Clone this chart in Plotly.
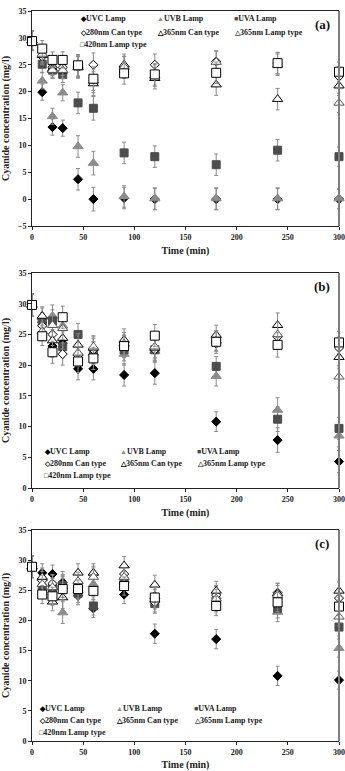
import plotly.graph_objects as go

# ---------------- data ----------------
time_min = [0, 10, 20, 30, 45, 60, 90, 120, 180, 240, 300]
series_names = ["UVC Lamp", "UVB Lamp", "UVA Lamp", "280nm Can type",
                "365nm Can type", "365nm Lamp type", "420nm Lamp type"]
panel_labels = ["(a)", "(b)", "(c)"]
x_ticks = [0, 50, 100, 150, 200, 250, 300]

# panel (a)
a_uvc = [29.5, 19.9, 13.4, 13.2, 3.7, 0.0, 0.2, 0.0, 0.0, 0.0, 0.0]
a_uvb = [29.5, 22.0, 15.4, 19.8, 9.8, 6.7, 0.5, 0.1, 0.1, 0.1, 0.1]
a_uva = [29.5, 25.1, 24.0, 23.2, 17.9, 16.9, 8.6, 7.9, 6.4, 9.1, 7.9]
a_280 = [29.5, 26.5, 24.5, 24.5, 24.6, 25.0, 24.5, 25.0, 25.6, 25.3, 22.8]
a_365c = [29.5, 26.8, 24.2, 23.9, 24.5, 21.5, 25.0, 22.5, 21.3, 18.6, 21.1]
a_365l = [29.5, 27.0, 24.0, 24.0, 24.8, 22.0, 24.6, 23.0, 25.5, 25.0, 17.9]
a_420 = [29.4, 28.0, 25.9, 25.9, 24.9, 22.4, 23.4, 23.2, 23.5, 25.3, 23.7]
a_err = [1.8, 1.5, 1.5, 1.5, 2.0, 2.2, 2.0, 2.0, 2.0, 2.0, 1.8]

# panel (b)
b_uvc = [29.8, 27.0, 23.1, 23.6, 19.4, 19.4, 18.4, 18.7, 10.8, 7.8, 4.3]
b_uvb = [29.8, 27.8, 28.0, 26.4, 22.0, 22.0, 21.8, 22.3, 18.2, 12.7, 8.5]
b_uva = [29.8, 27.0, 27.2, 23.0, 25.0, 22.0, 22.5, 22.5, 19.8, 11.2, 9.7]
b_280 = [29.8, 26.4, 25.0, 21.8, 21.6, 22.5, 23.0, 22.5, 23.5, 24.6, 22.8]
b_365c = [29.8, 28.0, 24.0, 24.4, 23.3, 22.8, 24.1, 22.8, 24.9, 26.5, 21.3]
b_365l = [29.8, 25.5, 26.5, 26.0, 22.0, 23.0, 23.5, 23.0, 24.0, 25.0, 18.1]
b_420 = [29.8, 24.7, 22.1, 27.8, 20.6, 21.1, 23.1, 24.8, 23.8, 23.3, 23.7]
b_err = [1.8, 1.5, 1.8, 1.8, 1.8, 1.8, 1.8, 1.8, 1.6, 2.0, 1.8]

# panel (c)
c_uvc = [28.9, 27.9, 27.7, 26.3, 24.1, 22.0, 24.3, 17.8, 16.9, 10.8, 10.1]
c_uvb = [28.9, 27.0, 26.0, 21.3, 25.0, 26.0, 26.7, 23.5, 24.0, 21.4, 15.4]
c_uva = [28.9, 25.4, 25.5, 25.8, 24.5, 22.4, 26.5, 22.8, 23.0, 22.0, 18.9]
c_280 = [28.9, 26.6, 26.1, 25.5, 26.3, 27.5, 27.7, 23.0, 24.2, 24.6, 23.7]
c_365c = [28.9, 27.2, 23.1, 23.8, 27.9, 27.9, 29.1, 25.9, 24.9, 24.5, 24.9]
c_365l = [28.9, 26.0, 25.5, 25.6, 26.5, 27.2, 27.2, 24.0, 23.6, 24.2, 20.6]
c_420 = [28.9, 24.3, 24.0, 25.2, 25.2, 24.9, 25.7, 23.8, 22.4, 23.0, 22.3]
c_err = [1.8, 1.5, 1.5, 1.8, 1.5, 1.5, 1.5, 1.6, 1.6, 1.6, 1.5]

panels = [
    [a_uvc, a_uvb, a_uva, a_280, a_365c, a_365l, a_420],
    [b_uvc, b_uvb, b_uva, b_280, b_365c, b_365l, b_420],
    [c_uvc, c_uvb, c_uva, c_280, c_365c, c_365l, c_420],
]
panel_err = [a_err, b_err, c_err]
y_ranges = [[-5, 35], [0, 35], [0, 35]]

# ---------------- styles ----------------
# symbol, fill, outline, size, legend glyph
styles = [
    ("diamond", "#000000", "#000000", 7, "\u25C6"),
    ("triangle-up", "#8c8c8c", "#8c8c8c", 9, "\u25B2"),
    ("square", "#4d4d4d", "#4d4d4d", 8, "\u25A0"),
    ("diamond", "#ffffff", "#000000", 7, "\u25C7"),
    ("triangle-up", "#ffffff", "#000000", 9, "\u25B3"),
    ("triangle-up", "#ffffff", "#555555", 9, "\u25B3"),
    ("square", "#ffffff", "#000000", 9, "\u25A1"),
]

FONT = "Liberation Serif"
W, H = 345, 771
ML, MR, MT, MB = 32, 6, 11, 30
plot_h = H - MT - MB
# panel pixel extents (top, bottom) in page px
panel_px = [(11, 226), (273, 488), (530, 741)]
domains = [[(H - MB - b) / plot_h, (H - MB - t) / plot_h] for (t, b) in panel_px]

# legend placement per panel (x-domain fractions for columns, y-domain for rows)
legend_cols = [[0.150, 0.401, 0.652], [0.033, 0.281, 0.531], [0.017, 0.268, 0.521]]
legend_rows = [[0.963, 0.902, 0.845], [0.172, 0.116, 0.056], [0.153, 0.098, 0.042]]

fig = go.Figure()
annotations = []
shapes = []
layout_axes = {}

for p, series in enumerate(panels):
    xa = "x" if p == 0 else f"x{p+1}"
    ya = "y" if p == 0 else f"y{p+1}"
    for s, vals in enumerate(series):
        sym, fill, line, size, _ = styles[s]
        fig.add_trace(go.Scatter(
            x=time_min, y=vals, mode="markers", name=series_names[s],
            showlegend=False, xaxis=xa, yaxis=ya, cliponaxis=False,
            marker=dict(symbol=sym, color=fill, size=size,
                        line=dict(color=line, width=1)),
            error_y=dict(type="data", array=panel_err[p], color="#8a8a8a",
                         thickness=1, width=2),
        ))
    xkey = "xaxis" if p == 0 else f"xaxis{p+1}"
    ykey = "yaxis" if p == 0 else f"yaxis{p+1}"
    layout_axes[xkey] = dict(
        domain=[0, 1], range=[0, 300], anchor=ya, tickvals=x_ticks,
        automargin=False,
        showline=True, linecolor="#222222", linewidth=1, mirror=True,
        ticks="outside", ticklen=3, tickcolor="#222222",
        showgrid=False, zeroline=False,
        tickfont=dict(family=FONT, size=8, color="#222222", weight="bold"),
        title=dict(text="Time (min)", standoff=6,
                   font=dict(family=FONT, size=10, color="#222222", weight="bold")),
    )
    layout_axes[ykey] = dict(
        domain=domains[p], range=y_ranges[p], anchor=xa, dtick=5,
        automargin=False,
        showline=True, linecolor="#222222", linewidth=1,
        ticks="outside", ticklen=3, tickcolor="#222222",
        showgrid=False, zeroline=False,
        tickfont=dict(family=FONT, size=8, color="#222222", weight="bold"),
        title=dict(text="Cyanide concentration (mg/l)",
                   font=dict(family=FONT, size=10, color="#222222", weight="bold")),
    )
    xd = f"{xa} domain"
    yd = f"{ya} domain"
    # right spine (gray, thicker)
    shapes.append(dict(type="line", xref=xd, yref=yd, x0=1, x1=1, y0=0, y1=1,
                       line=dict(color="#7f7f7f", width=2)))
    # panel label
    annotations.append(dict(text=panel_labels[p], xref=xd, yref=yd, x=0.945, y=0.935,
                            showarrow=False, xanchor="center", yanchor="middle",
                            font=dict(family=FONT, size=13, color="#111111", weight="bold")))
    # legend entries
    for s, name in enumerate(series_names):
        sym, fill, line, size, glyph = styles[s]
        gcol = fill if fill != "#ffffff" else line
        annotations.append(dict(
            text=f"<span style='color:{gcol};font-size:7px'>{glyph}</span>{name}",
            xref=xd, yref=yd, x=legend_cols[p][s % 3], y=legend_rows[p][s // 3],
            showarrow=False, xanchor="left", yanchor="middle",
            font=dict(family=FONT, size=8, color="#222222", weight="bold")))

fig.update_layout(
    template="none",
    width=W, height=H,
    margin=dict(l=ML, r=MR, t=MT, b=MB),
    plot_bgcolor="white", paper_bgcolor="white",
    font=dict(family=FONT, color="#222222"),
    showlegend=False,
    annotations=annotations,
    shapes=shapes,
    **layout_axes,
)

fig.write_html("out.html")
